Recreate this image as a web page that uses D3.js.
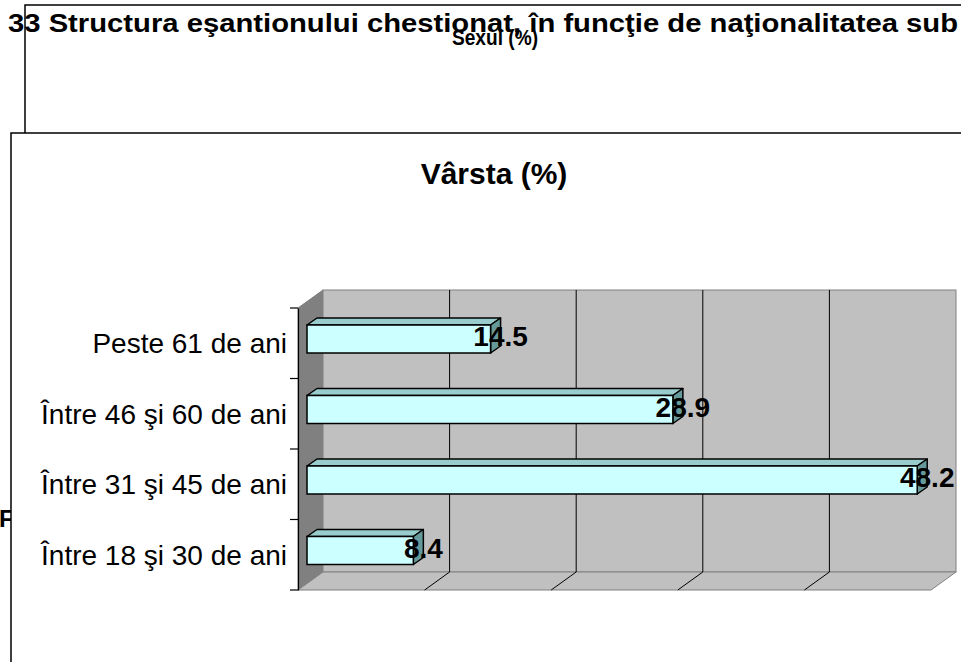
<!doctype html>
<html>
<head>
<meta charset="utf-8">
<title>Vârsta (%)</title>
<script src="https://d3js.org/d3.v7.min.js"></script>
<style>
    body { margin: 0; background: #fff; overflow: hidden; }
    svg text { font-family: "Liberation Sans", Arial, sans-serif; fill: #000; }
</style>
</head>
<body>
<svg id="chart" width="961" height="662"></svg>
<script>

    // --- data ---
    var categories = ["Între 18 şi 30 de ani", "Între 31 şi 45 de ani", "Între 46 şi 60 de ani", "Peste 61 de ani"];
    var values = [8.4, 48.2, 28.9, 14.5];
    var xTicks = [0, 10, 20, 30, 40, 50];

    var pageTitle = "33 Structura eşantionului chestionat, în funcţie de naţionalitatea sub";
    var firstChartTitle = "Sexul (%)";
    var chartTitle = "Vârsta (%)";

    var svg = d3.select("#chart");

    // first chart frame, mostly covered by the second one
    svg.append("path")
        .attr("d", "M25,133 L25,5 L961,5")
        .attr("fill", "none").attr("stroke", "#000").attr("stroke-width", 1.5);

    svg.append("text")
        .attr("x", 8).attr("y", 32)
        .attr("font-size", 26).attr("font-weight", "bold")
        .attr("textLength", 950).attr("lengthAdjust", "spacingAndGlyphs")
        .text(pageTitle);

    svg.append("text")
        .attr("x", 495).attr("y", 45)
        .attr("text-anchor", "middle")
        .attr("font-size", 22).attr("font-weight", "bold")
        .attr("textLength", 86).attr("lengthAdjust", "spacingAndGlyphs")
        .text(firstChartTitle);

    svg.append("text")
        .attr("x", -1).attr("y", 527)
        .attr("font-size", 24).attr("font-weight", "bold")
        .text("F");

    // second chart frame
    svg.append("rect")
        .attr("x", 11).attr("y", 133).attr("width", 970).attr("height", 560)
        .attr("fill", "#fff").attr("stroke", "#000").attr("stroke-width", 1.5);

    svg.append("text")
        .attr("x", 494).attr("y", 184)
        .attr("text-anchor", "middle")
        .attr("font-size", 30).attr("font-weight", "bold")
        .text(chartTitle);

    // --- scales ---
    var x = d3.scaleLinear().domain([0, 50]).range([298, 931]);
    var y = d3.scaleBand().domain(categories.slice().reverse()).range([308, 590]);
    var depth = { x: 25, y: -18 };
    var y0 = y.range()[0], y1 = y.range()[1];

    var g = svg.append("g");

    // left side wall
    g.append("polygon")
        .attr("points", [[x(0), y0], [x(0) + depth.x, y0 + depth.y], [x(0) + depth.x, y1 + depth.y], [x(0), y1]].join(" "))
        .attr("fill", "#808080").attr("stroke", "#808080");

    // back wall
    g.append("rect")
        .attr("x", x(0) + depth.x).attr("y", y0 + depth.y)
        .attr("width", x(50) - x(0)).attr("height", y1 - y0)
        .attr("fill", "#c0c0c0").attr("stroke", "#808080");

    // floor
    g.append("polygon")
        .attr("points", [[x(0), y1], [x(0) + depth.x, y1 + depth.y], [x(50) + depth.x, y1 + depth.y], [x(50), y1]].join(" "))
        .attr("fill", "#c0c0c0").attr("stroke", "#808080");

    // gridlines on back wall and floor
    var inner = xTicks.filter(function(d){ return d > 0 && d < 50; });
    g.selectAll(".grid").data(inner).enter().append("line")
        .attr("x1", function(d){ return x(d) + depth.x; })
        .attr("x2", function(d){ return x(d) + depth.x; })
        .attr("y1", y0 + depth.y).attr("y2", y1 + depth.y)
        .attr("stroke", "#000").attr("stroke-width", 1);
    g.selectAll(".fgrid").data(inner).enter().append("line")
        .attr("x1", function(d){ return x(d); })
        .attr("x2", function(d){ return x(d) + depth.x; })
        .attr("y1", y1).attr("y2", y1 + depth.y)
        .attr("stroke", "#000").attr("stroke-width", 1);

    // category axis
    var yAxis = d3.axisLeft(y).tickSize(0).tickPadding(11).tickSizeOuter(0);
    var ax = g.append("g").attr("transform", "translate(" + x(0) + ",0)").call(yAxis);
    ax.select(".domain").attr("stroke", "#000").attr("stroke-width", 1.2);
    ax.selectAll("text").attr("font-size", 28).attr("font-family", "'Liberation Sans', Arial, sans-serif").attr("dy", "0.35em");
    var tickYs = y.domain().map(function(d){ return y(d); }).concat([y1]);
    g.selectAll(".ytick").data(tickYs).enter().append("line")
        .attr("x1", x(0) - 8).attr("x2", x(0))
        .attr("y1", function(d){ return d; }).attr("y2", function(d){ return d; })
        .attr("stroke", "#000").attr("stroke-width", 1.2);

    // 3D bars
    var bShift = 9, bDepth = { x: 10, y: -7 }, bTop = 17, bH = 28;
    var bars = g.selectAll(".bar").data(values).enter().append("g");

    bars.append("polygon")
        .attr("points", function(d, i){
            var xa = x(0) + bShift, xb = x(d) + bShift, yt = y(categories[i]) + bTop;
            return [[xa, yt], [xa + bDepth.x, yt + bDepth.y], [xb + bDepth.x, yt + bDepth.y], [xb, yt]].join(" ");
        })
        .attr("fill", "#99cccc").attr("stroke", "#000").attr("stroke-width", 1.5).attr("stroke-linejoin", "round");

    bars.append("polygon")
        .attr("points", function(d, i){
            var xb = x(d) + bShift, yt = y(categories[i]) + bTop;
            return [[xb, yt], [xb + bDepth.x, yt + bDepth.y], [xb + bDepth.x, yt + bH + bDepth.y], [xb, yt + bH]].join(" ");
        })
        .attr("fill", "#669999").attr("stroke", "#000").attr("stroke-width", 1.5).attr("stroke-linejoin", "round");

    bars.append("rect")
        .attr("x", x(0) + bShift)
        .attr("y", function(d, i){ return y(categories[i]) + bTop; })
        .attr("width", function(d){ return x(d) - x(0); })
        .attr("height", bH)
        .attr("fill", "#ccffff").attr("stroke", "#000").attr("stroke-width", 1.5);

    bars.append("text")
        .attr("x", function(d){ return x(d) + bShift + bDepth.x; })
        .attr("y", function(d, i){ return y(categories[i]) + bTop + 21; })
        .attr("text-anchor", "middle")
        .attr("font-size", 28).attr("font-weight", "bold")
        .text(function(d){ return d.toFixed(1); });

</script>
</body>
</html>
